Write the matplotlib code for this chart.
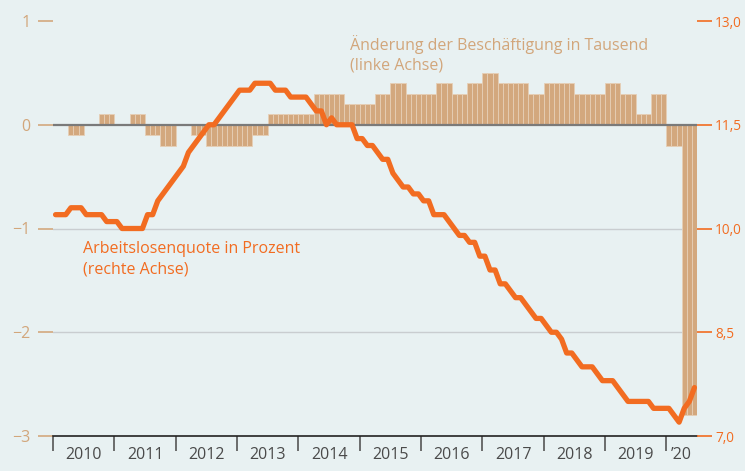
import numpy as np
import matplotlib
matplotlib.use("Agg")
import matplotlib.pyplot as plt

# ---------------- data ----------------
years = ["2010", "2011", "2012", "2013", "2014", "2015", "2016", "2017", "2018", "2019", "\u201920"]

# quarterly change in employment (thousands), 2010Q1 .. 2020Q2 (each shown as 3 monthly bars)
emp_change_q = [0.0, -0.1, 0.0, 0.1,
                0.0, 0.1, -0.1, -0.2,
                0.0, -0.1, -0.2, -0.2,
                -0.2, -0.1, 0.1, 0.1,
                0.1, 0.3, 0.3, 0.2,
                0.2, 0.3, 0.4, 0.3,
                0.3, 0.4, 0.3, 0.4,
                0.5, 0.4, 0.4, 0.3,
                0.4, 0.4, 0.3, 0.3,
                0.4, 0.3, 0.1, 0.3,
                -0.2, -2.8]

# monthly unemployment rate (%), Jan 2010 .. Jun 2020
unemp = [10.2, 10.2, 10.2, 10.3, 10.3, 10.3, 10.2, 10.2, 10.2, 10.2, 10.1, 10.1,
         10.1, 10.0, 10.0, 10.0, 10.0, 10.0, 10.2, 10.2, 10.4, 10.5, 10.6, 10.7,
         10.8, 10.9, 11.1, 11.2, 11.3, 11.4, 11.5, 11.5, 11.6, 11.7, 11.8, 11.9,
         12.0, 12.0, 12.0, 12.1, 12.1, 12.1, 12.1, 12.0, 12.0, 12.0, 11.9, 11.9,
         11.9, 11.9, 11.8, 11.7, 11.7, 11.5, 11.6, 11.5, 11.5, 11.5, 11.5, 11.3,
         11.3, 11.2, 11.2, 11.1, 11.0, 11.0, 10.8, 10.7, 10.6, 10.6, 10.5, 10.5,
         10.4, 10.4, 10.2, 10.2, 10.2, 10.1, 10.0, 9.9, 9.9, 9.8, 9.8, 9.6,
         9.6, 9.4, 9.4, 9.2, 9.2, 9.1, 9.0, 9.0, 8.9, 8.8, 8.7, 8.7,
         8.6, 8.5, 8.5, 8.4, 8.2, 8.2, 8.1, 8.0, 8.0, 8.0, 7.9, 7.8,
         7.8, 7.8, 7.7, 7.6, 7.5, 7.5, 7.5, 7.5, 7.5, 7.4, 7.4, 7.4,
         7.4, 7.3, 7.2, 7.4, 7.5, 7.7]

left_ticks = [-3, -2, -1, 0, 1]
left_labels = ["\u22123", "\u22122", "\u22121", "0", "1"]
right_ticks = [7.0, 8.5, 10.0, 11.5, 13.0]
right_labels = ["7,0", "8,5", "10,0", "11,5", "13,0"]

# ---------------- style ----------------
BG = "#e8f1f2"
TAN = "#d3a87e"
TAN_TXT = "#d2a67b"
ORANGE = "#f26c21"
DARK = "#4a4a4a"

plt.rcParams["font.family"] = ["Open Sans", "DejaVu Sans"]

W, H = 745, 471
fig = plt.figure(figsize=(W / 100, H / 100), dpi=100, facecolor=BG)
ax = fig.add_axes([53 / W, 1 - 436 / H, (697 - 53) / W, (436 - 21) / H])
ax.set_facecolor(BG)

emp_monthly = np.repeat(emp_change_q, 3)
months = np.arange(len(emp_monthly))
ax.bar(months + 0.5, emp_monthly, width=1.0, color=TAN,
       edgecolor="#e6cfb6", linewidth=0.6, zorder=2)

for g in (-1, -2):
    ax.axhline(g, color="#c9cdd0", linewidth=1.0, zorder=1)
ax.axhline(0, color="#7a7a7a", linewidth=1.6, zorder=3)

ax.set_xlim(0, len(unemp))
ax.set_ylim(-3, 1)
for s in ("top", "left", "right"):
    ax.spines[s].set_visible(False)
ax.spines["bottom"].set_color("#222222")
ax.spines["bottom"].set_linewidth(1.2)

ax.set_yticks(left_ticks)
ax.set_yticklabels(left_labels)
ax.tick_params(axis="y", colors=TAN, labelcolor=TAN_TXT, length=11, width=1.2,
               pad=5, labelsize=11.5)

year_edges = np.arange(0, len(unemp), 12)
ax.set_xticks(year_edges)
ax.set_xticklabels([])
ax.tick_params(axis="x", which="major", length=11, width=1.2, color="#555555")
centers = [min(e + 6, (e + len(unemp)) / 2) for e in year_edges]
ax.set_xticks(centers, minor=True)
ax.set_xticklabels(years, minor=True)
ax.tick_params(axis="x", which="minor", length=0, pad=8, labelsize=11.5, labelcolor=DARK)

ax2 = ax.twinx()
ax2.set_ylim(7, 13)
ax2.plot(np.arange(len(unemp)) + 0.5, unemp, color=ORANGE, linewidth=3.8,
         solid_joinstyle="round", solid_capstyle="round", zorder=5)
for s in ("top", "left", "right", "bottom"):
    ax2.spines[s].set_visible(False)
ax2.set_yticks(right_ticks)
ax2.set_yticklabels(right_labels)
ax2.tick_params(axis="y", colors=ORANGE, labelcolor=ORANGE, length=10.5, width=1.2,
                pad=2.5, labelsize=9.8)

fig.text(350 / W, 1 - 45 / H, "\u00c4nderung der Besch\u00e4ftigung in Tausend",
         color=TAN_TXT, fontsize=11.5, va="center", ha="left")
fig.text(350 / W, 1 - 65 / H, "(linke Achse)",
         color=TAN_TXT, fontsize=11.5, va="center", ha="left")
fig.text(83 / W, 1 - 249 / H, "Arbeitslosenquote in Prozent",
         color=ORANGE, fontsize=11.5, va="center", ha="left")
fig.text(83 / W, 1 - 269 / H, "(rechte Achse)",
         color=ORANGE, fontsize=11.5, va="center", ha="left")

fig.savefig("out.png", dpi=100, facecolor=BG)
